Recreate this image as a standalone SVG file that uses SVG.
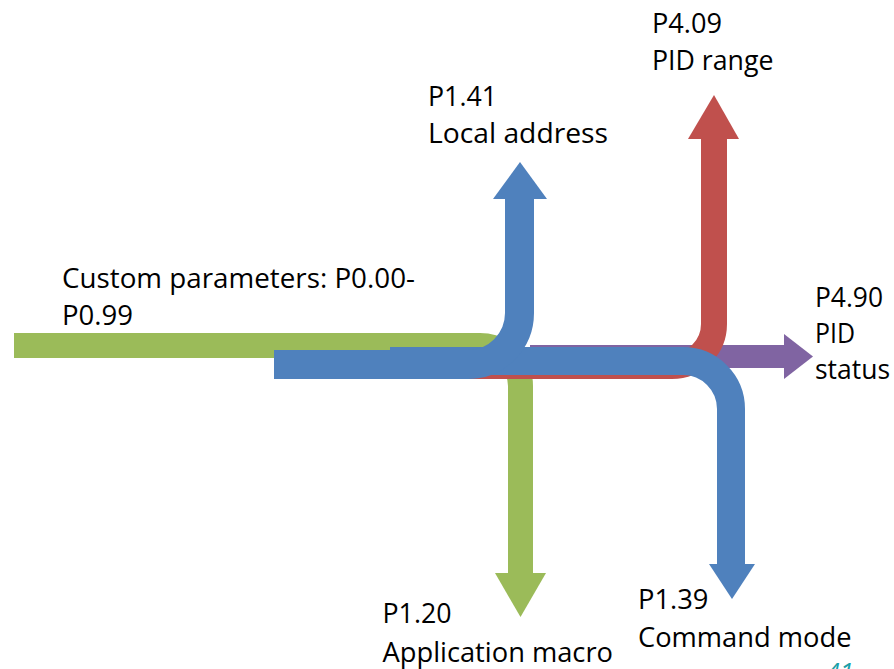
<svg xmlns="http://www.w3.org/2000/svg" width="894" height="669" viewBox="0 0 894 669">
<style>
.lbl{font-family:"Open Sans","Liberation Sans",sans-serif;font-size:27px;fill:#000;}
.band{fill:none;stroke-linecap:butt;stroke-linejoin:miter;}
.g{stroke:#9BBB59;}.gf{fill:#9BBB59;}
.b{stroke:#4F81BD;}.bf{fill:#4F81BD;}
.r{stroke:#C0504D;}.rf{fill:#C0504D;}
.p{stroke:#8064A2;}.pf{fill:#8064A2;}
</style>
<rect width="894" height="669" fill="#fff"/>
<g id="connectors">
  <g id="green-flow">
    <path class="band g" stroke-width="25" d="M14,345.5 H480 A40.5,40.5 0 0 1 520.5,386 V574"/>
    <polygon class="gf" points="495,573 546,573 520.5,617"/>
  </g>
  <g id="purple-flow">
    <path class="band p" stroke-width="23" d="M530,356.5 H785"/>
    <polygon class="pf" points="784,334 784,379 813,356.5"/>
  </g>
  <g id="red-flow">
    <path class="band r" stroke-width="26" d="M450,366 H672 A42,42 0 0 0 714,324 V138"/>
    <polygon class="rf" points="688,139 739,139 714,95"/>
  </g>
  <g id="blue-flow-2">
    <path class="band b" stroke-width="28" d="M390,361 H683 A48,48 0 0 1 731,409 V565"/>
    <polygon class="bf" points="709,564 755,564 732,599"/>
  </g>
  <g id="blue-flow-1">
    <path class="band b" stroke-width="29" d="M274,364.5 H468 A51.5,51.5 0 0 0 519.5,313 V198"/>
    <polygon class="bf" points="493,199 547,199 520,162"/>
  </g>
</g>
<g id="node-custom">
  <text class="lbl" x="62" y="288" textLength="353" lengthAdjust="spacingAndGlyphs">Custom parameters: P0.00-</text>
  <text class="lbl" x="62" y="325" textLength="71" lengthAdjust="spacingAndGlyphs">P0.99</text>
</g>
<g id="node-p409">
  <text class="lbl" x="652" y="32.5" textLength="70" lengthAdjust="spacingAndGlyphs">P4.09</text>
  <text class="lbl" x="652" y="69.5" textLength="121.5" lengthAdjust="spacingAndGlyphs">PID range</text>
</g>
<g id="node-p141">
  <text class="lbl" x="428" y="105.5" textLength="69" lengthAdjust="spacingAndGlyphs">P1.41</text>
  <text class="lbl" x="428" y="143" textLength="180" lengthAdjust="spacingAndGlyphs">Local address</text>
</g>
<g id="node-p490">
  <text class="lbl" x="815" y="307" textLength="68" lengthAdjust="spacingAndGlyphs">P4.90</text>
  <text class="lbl" x="815" y="342.5" textLength="40" lengthAdjust="spacingAndGlyphs">PID</text>
  <text class="lbl" x="815" y="379" textLength="75" lengthAdjust="spacingAndGlyphs">status</text>
</g>
<g id="node-p120">
  <text class="lbl" x="382.5" y="623" textLength="69" lengthAdjust="spacingAndGlyphs">P1.20</text>
  <text class="lbl" x="382.5" y="661.5" textLength="230.5" lengthAdjust="spacingAndGlyphs">Application macro</text>
</g>
<g id="node-p139">
  <text class="lbl" x="638" y="609" textLength="70.5" lengthAdjust="spacingAndGlyphs">P1.39</text>
  <text class="lbl" x="638" y="646.5" textLength="213.5" lengthAdjust="spacingAndGlyphs">Command mode</text>
</g>
<g id="page-number">
  <text x="826" y="681" style="font-family:'Open Sans','Liberation Sans',sans-serif;font-size:25px;fill:#1AA0A8;font-style:italic">41</text>
</g>
</svg>
